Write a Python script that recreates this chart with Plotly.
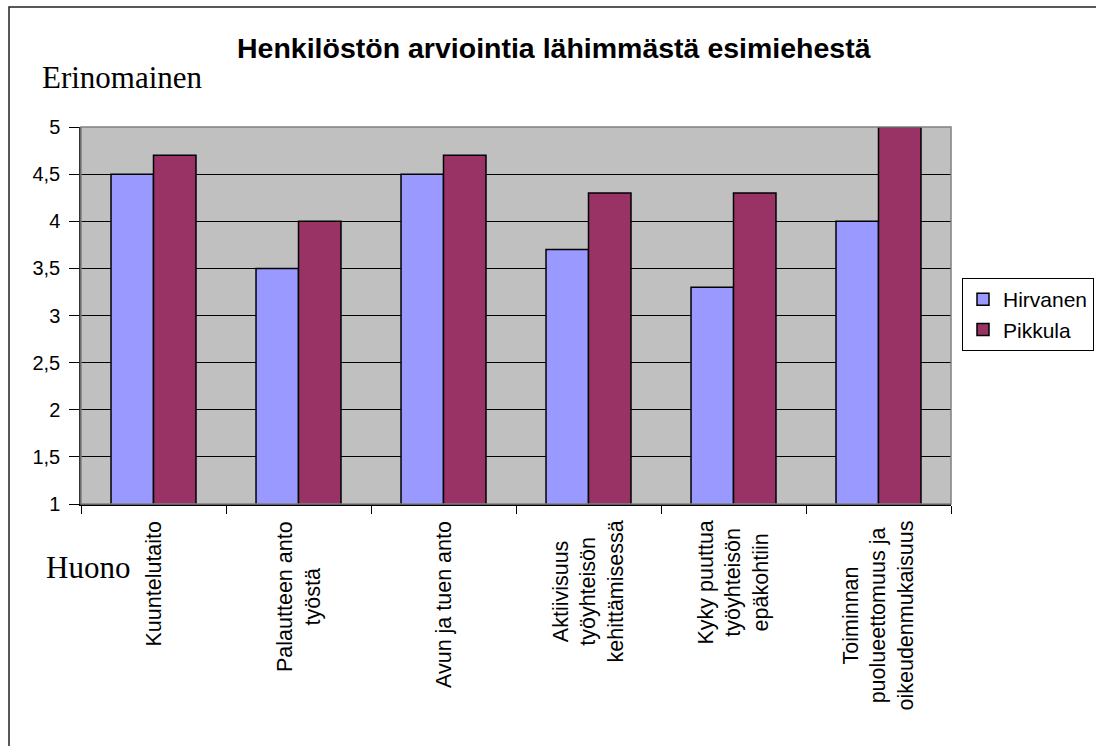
import plotly.graph_objects as go

categories = ["Kuuntelutaito", "Palautteen anto työstä", "Avun ja tuen anto",
              "Aktiivisuus työyhteisön kehittämisessä", "Kyky puuttua työyhteisön epäkohtiin",
              "Toiminnan puolueettomuus ja oikeudenmukaisuus"]
category_labels = ["Kuuntelutaito", "Palautteen anto<br>työstä", "Avun ja tuen anto",
                   "Aktiivisuus<br>työyhteisön<br>kehittämisessä",
                   "Kyky puuttua<br>työyhteisön<br>epäkohtiin",
                   "Toiminnan<br>puolueettomuus ja<br>oikeudenmukaisuus"]
hirvanen = [4.5, 3.5, 4.5, 3.7, 3.3, 4.0]
pikkula = [4.7, 4.0, 4.7, 4.3, 4.3, 5.0]
y_ticks = [1, 1.5, 2, 2.5, 3, 3.5, 4, 4.5, 5]

W, H = 1096, 746
L, R, T, B = 81, 951, 127, 504

def px(x):
    return (x - L) / (R - L)

def py(y):
    return (B - y) / (B - T)

fig = go.Figure()
fig.add_trace(go.Bar(x=categories, y=hirvanen, base=0, name="Hirvanen",
                     marker=dict(color="#9999FF", line=dict(color="#000000", width=1.5))))
fig.add_trace(go.Bar(x=categories, y=pikkula, base=0, name="Pikkula",
                     marker=dict(color="#993366", line=dict(color="#000000", width=1.5))))

annotations = []
for cat, lab in zip(categories, category_labels):
    annotations.append(dict(x=cat, xref="x", y=py(519), yref="paper", text=lab,
                            textangle=-90, showarrow=False, xanchor="center", yanchor="top",
                            align="center",
                            font=dict(family="Arial, Liberation Sans", size=21.5, color="#000")))
annotations.append(dict(x=px(554), xref="paper", y=py(48), yref="paper",
                        text="<b>Henkilöstön arviointia lähimmästä esimiehestä</b>",
                        showarrow=False, xanchor="center", yanchor="middle",
                        font=dict(family="Arial, Liberation Sans", size=28.5, color="#000")))
annotations.append(dict(x=px(40), xref="paper", y=py(77), yref="paper", text="Erinomainen",
                        showarrow=False, xanchor="left", yanchor="middle",
                        font=dict(family="Times New Roman, Liberation Serif", size=31, color="#000")))
annotations.append(dict(x=px(44), xref="paper", y=py(567), yref="paper", text="Huono",
                        showarrow=False, xanchor="left", yanchor="middle",
                        font=dict(family="Times New Roman, Liberation Serif", size=31, color="#000")))

shapes = [
    dict(type="rect", xref="paper", yref="paper", x0=0, x1=1, y0=0, y1=1,
         line=dict(color="#808080", width=1.5), fillcolor="rgba(0,0,0,0)", layer="above"),
    dict(type="rect", xref="paper", yref="paper", x0=px(9), x1=px(1110), y0=py(7), y1=py(760),
         line=dict(color="#222", width=1.5), fillcolor="rgba(0,0,0,0)"),
]

fig.update_layout(
    width=W, height=H,
    margin=dict(l=L, r=W - R, t=T, b=H - B, autoexpand=False),
    paper_bgcolor="white", plot_bgcolor="#C0C0C0",
    barmode="group", bargap=0.414, bargroupgap=0,
    separators=", ",
    showlegend=True,
    legend=dict(x=px(962), y=py(278), xanchor="left", yanchor="top",
                bordercolor="#000", borderwidth=1, bgcolor="white",
                font=dict(family="Arial, Liberation Sans", size=21, color="#000"),
                tracegroupgap=0, itemwidth=30),
    annotations=annotations, shapes=shapes,
)
fig.update_xaxes(showticklabels=False, ticks="outside", tickson="boundaries", ticklen=8,
                 tickcolor="#000", showline=True, linecolor="#000", linewidth=1.5,
                 showgrid=False, zeroline=False)
fig.update_yaxes(range=[1, 5], tickvals=y_ticks, ticks="outside", ticklen=10, tickcolor="#000",
                 ticklabelstandoff=5,
                 showline=True, linecolor="#333", linewidth=1.5,
                 showgrid=True, gridcolor="#000", gridwidth=1, zeroline=False,
                 tickfont=dict(family="Arial, Liberation Sans", size=20, color="#000"))

fig.write_html("out.html", config={"displayModeBar": False},
               post_script="document.body.style.margin='0';document.body.style.overflow='hidden';")
